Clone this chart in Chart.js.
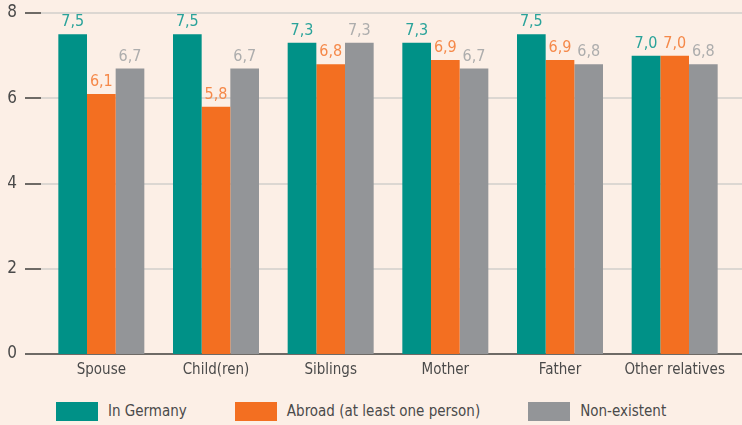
<!DOCTYPE html>
<html>
<head>
<meta charset="utf-8">
<script src="https://cdn.jsdelivr.net/npm/chart.js@4/dist/chart.umd.min.js"></script>
<style>
  body { margin: 0; background: #fcefe6; font-family: "Liberation Sans Narrow", "DejaVu Sans Condensed", sans-serif; }
  .wrap { position: relative; width: 742px; height: 392px; }
  .legend { display: flex; align-items: center; height: 38px; padding-left: 56px; color: #4a4a4a; font-size: 15px; }
  .legend .item { display: flex; align-items: center; margin-right: 48px; }
  .legend .box { width: 42px; height: 19px; margin-right: 10px; }
</style>
</head>
<body>
<div class="wrap"><canvas id="chart"></canvas></div>
<div class="legend" id="legend"></div>
<script>
const categories = ['Spouse', 'Child(ren)', 'Siblings', 'Mother', 'Father', 'Other relatives'];
const inGermany = [7.5, 7.5, 7.3, 7.3, 7.5, 7.0];
const abroad = [6.1, 5.8, 6.8, 6.9, 6.9, 7.0];
const nonExistent = [6.7, 6.7, 7.3, 6.7, 6.8, 6.8];
const seriesNames = ['In Germany', 'Abroad (at least one person)', 'Non-existent'];
const yTicks = [0, 2, 4, 6, 8];

const barColors = ['#009187', '#f36f21', '#939598'];
const labelColors = ['#2aa39a', '#f5894a', '#adadad'];
const fontFamily = '"Liberation Sans Narrow", "DejaVu Sans Condensed", sans-serif';

// gridlines run over the full width, with short dark ticks on the left
const gridPlugin = {
  id: 'grid',
  beforeDatasetsDraw(chart) {
    const ctx = chart.ctx;
    const y = chart.scales.y;
    const tickStart = chart.chartArea.left - 19;
    const tickEnd = chart.chartArea.left - 3;
    ctx.save();
    ctx.lineWidth = 2;
    yTicks.forEach(v => {
      const py = Math.round(y.getPixelForValue(v));
      if (v === 0) {
        ctx.strokeStyle = '#6e6a66';
        ctx.beginPath(); ctx.moveTo(tickStart, py); ctx.lineTo(chart.width, py); ctx.stroke();
      } else {
        ctx.strokeStyle = '#dcd7d2';
        ctx.beginPath(); ctx.moveTo(tickEnd, py); ctx.lineTo(chart.width, py); ctx.stroke();
        ctx.strokeStyle = '#6e6a66';
        ctx.beginPath(); ctx.moveTo(tickStart, py); ctx.lineTo(tickEnd, py); ctx.stroke();
      }
    });
    ctx.restore();
  }
};

const valueLabels = {
  id: 'valueLabels',
  afterDatasetsDraw(chart) {
    const ctx = chart.ctx;
    ctx.save();
    ctx.font = '16px ' + fontFamily;
    ctx.textAlign = 'center';
    ctx.textBaseline = 'bottom';
    chart.data.datasets.forEach((ds, i) => {
      ctx.fillStyle = labelColors[i];
      chart.getDatasetMeta(i).data.forEach((el, j) => {
        ctx.fillText(ds.data[j].toFixed(1).replace('.', ','), el.x, el.y - 4);
      });
    });
    ctx.restore();
  }
};

new Chart(document.getElementById('chart'), {
  type: 'bar',
  data: {
    labels: categories,
    datasets: [
      { label: seriesNames[0], data: inGermany, backgroundColor: barColors[0] },
      { label: seriesNames[1], data: abroad, backgroundColor: barColors[1] },
      { label: seriesNames[2], data: nonExistent, backgroundColor: barColors[2] }
    ]
  },
  options: {
    responsive: true,
    maintainAspectRatio: false,
    animation: false,
    layout: { padding: { top: 13, right: 10, bottom: 0, left: 0 } },
    datasets: { bar: { categoryPercentage: 0.75, barPercentage: 1 } },
    plugins: {
      legend: { display: false },
      tooltip: { enabled: false }
    },
    scales: {
      x: {
        afterFit(scale) { scale.height = 38; scale.paddingLeft = 0; scale.paddingRight = 0; },
        grid: { display: false, tickLength: 0 },
        border: { display: false },
        ticks: { color: '#4a4a4a', font: { family: fontFamily, size: 15 }, padding: 7 }
      },
      y: {
        min: 0,
        max: 8,
        afterFit(scale) { scale.width = 44; scale.paddingTop = 0; scale.paddingBottom = 0; },
        afterBuildTicks(scale) { scale.ticks = yTicks.map(v => ({ value: v })); },
        grid: { display: false, tickLength: 0 },
        border: { display: false },
        ticks: { color: '#4a4a4a', font: { family: fontFamily, size: 17 }, padding: 27 }
      }
    }
  },
  plugins: [gridPlugin, valueLabels]
});

const legend = document.getElementById('legend');
seriesNames.forEach((name, i) => {
  const item = document.createElement('div');
  item.className = 'item';
  item.innerHTML = '<span class="box" style="background:' + barColors[i] + '"></span><span>' + name + '</span>';
  legend.appendChild(item);
});
</script>
</body>
</html>
